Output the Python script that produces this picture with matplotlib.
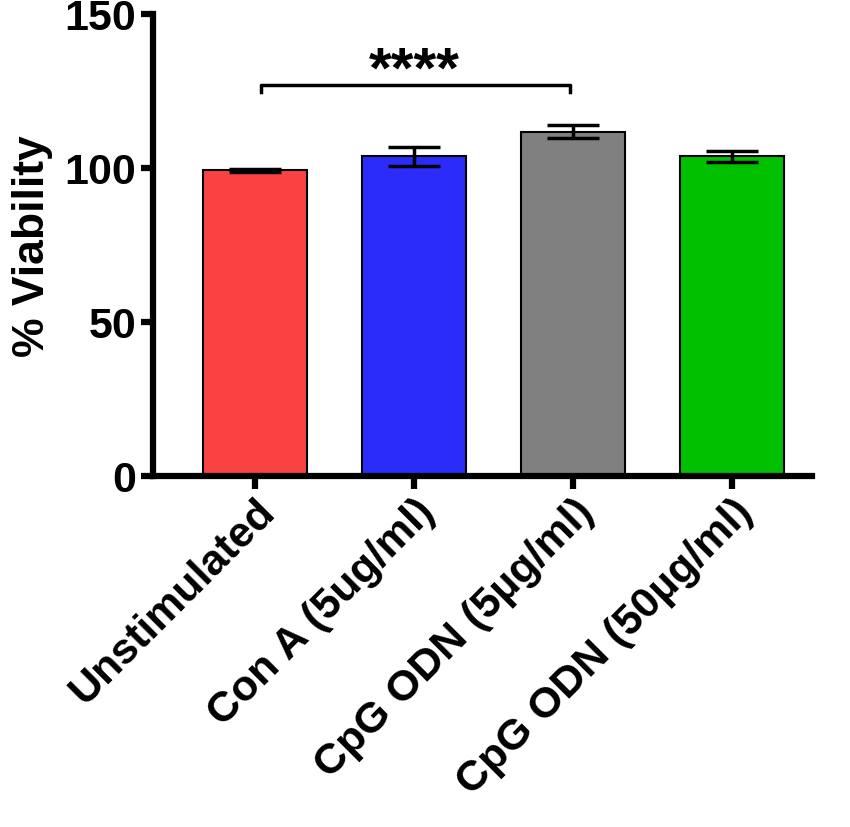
import matplotlib.pyplot as plt

# donnees
groupes = ["Unstimulated", "Con A (5ug/ml)", "CpG ODN (5µg/ml)", "CpG ODN (50µg/ml)"]
viabilite = [99.3, 103.8, 111.7, 103.8]
erreurs = [0.5, 3.1, 2.1, 1.8]
couleurs = ["#FA4242", "#2B2BFA", "#808080", "#00C000"]

plt.rcParams['font.family'] = ['Liberation Sans', 'DejaVu Sans']
plt.rcParams['font.weight'] = 'bold'

fig = plt.figure(figsize=(8.5, 8.28), dpi=100)
ax = fig.add_axes([0.18, 0.424, 0.775, 0.558])

x = list(range(len(groupes)))
ax.bar(x, viabilite, width=0.65, color=couleurs, edgecolor="black", linewidth=1.5, zorder=2)
ax.errorbar(x, viabilite, yerr=erreurs, fmt="none", ecolor="black", elinewidth=2.5,
            capsize=19, capthick=2.5, zorder=3)

# barre de significativite
ax.plot([0.04, 0.04, 1.98, 1.98], [124.5, 127, 127, 124.5], color="black", lw=2.5, clip_on=False)
ax.text(1, 122.5, "****", ha="center", va="bottom", fontsize=42, fontweight="bold")

ax.set_xlim(-0.64, 3.5)
ax.set_ylim(0, 150)
ax.set_yticks([0, 50, 100, 150])
ax.set_xticks(x)
ax.set_xticklabels(groupes, rotation=45, ha="right", rotation_mode="anchor",
                   fontsize=31, fontweight="bold")
for lab in ax.get_yticklabels():
    lab.set_fontsize(31)
    lab.set_fontweight("bold")
ax.set_ylabel("% Viability", fontsize=32, fontweight="bold", labelpad=8)

for s in ["top", "right"]:
    ax.spines[s].set_visible(False)
for s in ["left", "bottom"]:
    ax.spines[s].set_linewidth(4.5)
ax.tick_params(axis="both", width=4.5, length=9)
ax.tick_params(axis="y", pad=3)
ax.tick_params(axis="x", pad=2)

fig.savefig("out.png", dpi=100)
